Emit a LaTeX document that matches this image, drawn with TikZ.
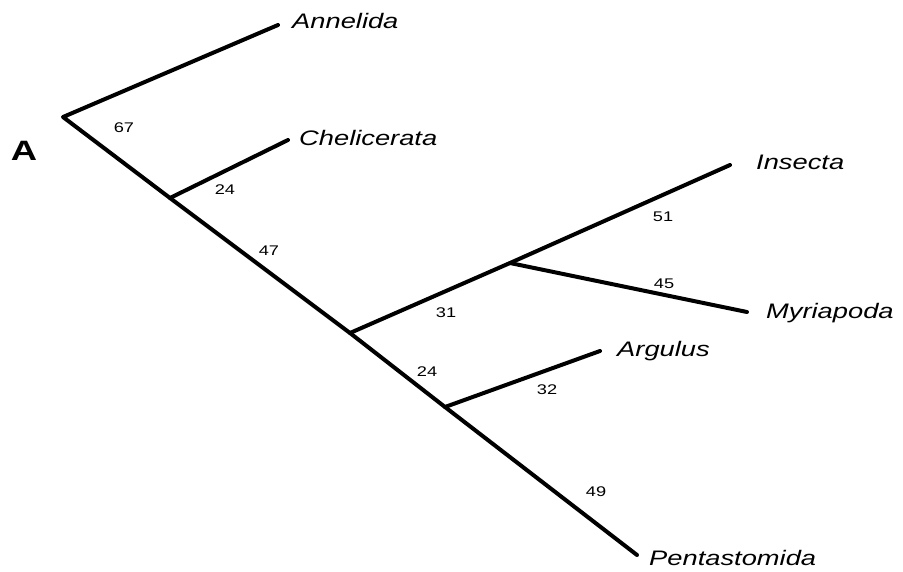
\documentclass[tikz,border=0pt]{standalone}
\usepackage{fontspec}
\usepackage{graphicx}
\setmainfont{Liberation Sans}
% lettering is set slightly wide
\newcommand{\widetext}[1]{\scalebox{1.3}[1]{#1}}
\begin{document}
\begin{tikzpicture}[x=1pt,y=-1pt,
  branch/.style={line width=4pt,line cap=round,line join=round},
  taxon/.style={anchor=west,inner sep=0pt,font=\fontsize{21}{24}\selectfont\itshape},
  support/.style={inner sep=0pt,font=\fontsize{14}{16}\selectfont}]
\useasboundingbox (0,0) rectangle (903,571);
% tree vertices
\coordinate (root) at (63,117);
\coordinate (n1) at (170,198);
\coordinate (n2) at (350,333);
\coordinate (n3) at (510,263);
\coordinate (n4) at (445,407);
\coordinate (tAnn) at (278,25);
\coordinate (tChe) at (288,140);
\coordinate (tIns) at (730,165);
\coordinate (tMyr) at (747,312);
\coordinate (tArg) at (600,351);
\coordinate (tPen) at (637,555);
% branches
\draw[branch] (tAnn) -- (root) -- (n1) -- (n2) -- (n4) -- (tPen);
\draw[branch] (n1) -- (tChe);
\draw[branch] (n2) -- (n3) -- (tIns);
\draw[branch] (n3) -- (tMyr);
\draw[branch] (n4) -- (tArg);
% taxon names
\node[taxon] (lAnn) at (292,21) {\widetext{Annelida}};
\node[taxon] (lChe) at (299,138) {\widetext{Chelicerata}};
\node[taxon] (lIns) at (756,162) {\widetext{Insecta}};
\node[taxon] (lMyr) at (766,313) {\widetext{Myriapoda}};
\node[taxon] (lArg) at (617,351) {\widetext{Argulus}};
\node[taxon] (lPen) at (649,558) {\widetext{Pentastomida}};
% panel letter
\node[inner sep=0pt,font=\fontsize{28}{30}\selectfont\bfseries] (panel) at (24,151) {\widetext{A}};
% support values
\node[support] (s1) at (124,128) {\widetext{67}};
\node[support] (s2) at (225,190) {\widetext{24}};
\node[support] (s3) at (269,251) {\widetext{47}};
\node[support] (s4) at (446,313) {\widetext{31}};
\node[support] (s5) at (663,217) {\widetext{51}};
\node[support] (s6) at (664,284) {\widetext{45}};
\node[support] (s7) at (427,372) {\widetext{24}};
\node[support] (s8) at (547,390) {\widetext{32}};
\node[support] (s9) at (596,492) {\widetext{49}};
\end{tikzpicture}
\end{document}
